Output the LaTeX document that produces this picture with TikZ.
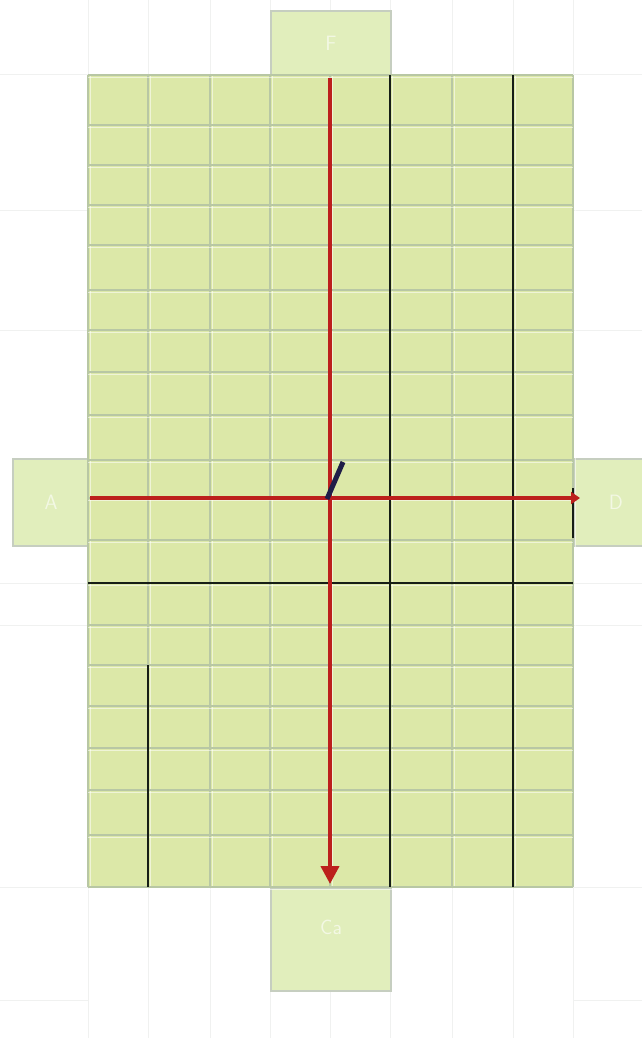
\documentclass[tikz,border=0pt]{standalone}
\usetikzlibrary{arrows.meta}
\definecolor{fillg}{RGB}{220,232,168}
\definecolor{boxg}{RGB}{225,238,188}
\definecolor{gridg}{RGB}{184,199,164}
\definecolor{boxline}{RGB}{198,206,192}
\definecolor{faint}{RGB}{240,241,240}
\definecolor{axred}{RGB}{188,32,28}
\definecolor{navy}{RGB}{32,30,72}
\definecolor{darkl}{RGB}{22,30,22}
\tikzset{
  sidebox/.style={draw=boxline, line width=2pt, fill=boxg, inner sep=0pt, anchor=north west},
  sidelabel/.style={text=white, opacity=0.6, font=\sffamily\huge},
  gline/.style={draw=gridg, line width=2.4pt},
  hl/.style={draw=white, opacity=0.55, line width=0.8pt},
  darkline/.style={draw=darkl, line width=2.4pt},
  axis/.style={draw=axred, line width=4pt},
  faintline/.style={draw=faint, line width=1pt}
}
\begin{document}
\begin{tikzpicture}[x=1pt,y=-1pt]
\useasboundingbox (0,0) rectangle (642,1038);
\fill[white] (0,0) rectangle (642,1038);
% faint outer grid
\foreach \x in {88,148,210,270,330,390,452,513,573}
  {\draw[faintline] (\x,0) -- (\x,75); \draw[faintline] (\x,887) -- (\x,1038);}
\foreach \y in {75,210,330,583,625,887,1000}
  {\draw[faintline] (0,\y) -- (88,\y); \draw[faintline] (573,\y) -- (642,\y);}
% side boxes
\node[sidebox, minimum width=120pt, minimum height=65pt] (topbox) at (270,10) {};
\node[sidebox, minimum width=76pt, minimum height=87pt] (leftbox) at (12,458) {};
\node[sidebox, minimum width=72pt, minimum height=87pt] (rightbox) at (573,458) {};
\node[sidebox, minimum width=120pt, minimum height=103pt] (botbox) at (270,887) {};
\node[sidelabel] (toplab) at (topbox.center) {F};
\node[sidelabel] (leftlab) at (leftbox.center) {A};
\node[sidelabel] (rightlab) at ([xshift=6pt]rightbox.center) {D};
\node[sidelabel] (botlab) at ([yshift=12pt]botbox.center) {Ca};
% main grid field
\fill[fillg] (88,75) rectangle (573,887);
\foreach \x in {88,148,210,270,330,390,452,513,573}
  {\draw[gline] (\x,75) -- (\x,887); \draw[hl] (\x+2,75) -- (\x+2,887);}
\foreach \y in {75,125,165,205,245,290,330,372,415,460,498,540,583,625,665,706,748,790,835,887}
  {\draw[gline] (88,\y) -- (573,\y); \draw[hl] (88,\y+2) -- (573,\y+2);}
% dark lines
\draw[darkline] (390,75) -- (390,887);
\draw[darkline] (513,75) -- (513,887);
\draw[darkline] (148,665) -- (148,887);
\draw[darkline] (88,583) -- (573,583);
\draw[darkline] (573,488) -- (573,538);
% axes
\coordinate (vtop) at (330,78);
\coordinate (vbot) at (330,884);
\coordinate (hleft) at (90,498);
\coordinate (hright) at (580,498);
\coordinate (origin) at (327,499);
\coordinate (tip) at (343,462);
\draw[axis, -{Triangle[length=18pt,width=18pt]}] (vtop) -- (vbot);
\draw[axis, -{Triangle[length=9pt,width=12pt]}] (hleft) -- (hright);
\draw[navy, line width=5pt] (origin) -- (tip);
\end{tikzpicture}
\end{document}
